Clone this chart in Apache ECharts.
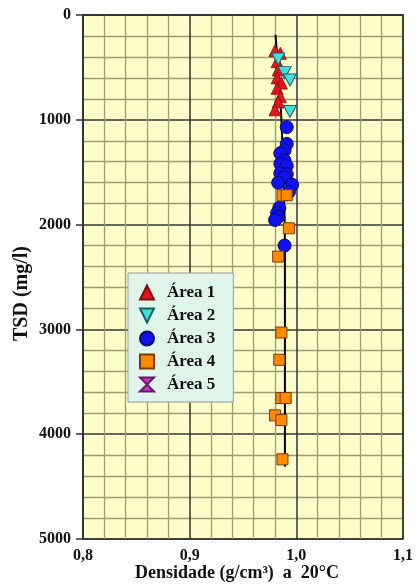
<!DOCTYPE html>
<html>
<head>
<meta charset="utf-8">
<script src="https://cdn.jsdelivr.net/npm/echarts@6/dist/echarts.min.js"></script>
<style>
html,body{margin:0;padding:0;background:#fff;}
#chart{width:419px;height:586px;}
</style>
</head>
<body>
<div id="chart"></div>
<script>
// Density (g/cm3) , TSD (mg/l)
const area1 = [[0.980,340],[0.985,365],[0.982,445],[0.983,525],[0.982,600],[0.986,650],[0.982,700],[0.985,780],[0.983,830],[0.980,905]];
const area2 = [[0.983,420],[0.989,550],[0.994,620],[0.994,920]];
const area3 = [[0.991,1070],[0.991,1230],[0.989,1290],[0.985,1320],[0.989,1390],[0.985,1420],[0.991,1440],[0.985,1510],[0.991,1520],[0.989,1550],[0.983,1600],[0.996,1620],[0.993,1690],[0.984,1840],[0.982,1890],[0.983,1925],[0.980,1955],[0.989,2200]];
const area4 = [[0.987,1720],[0.991,1720],[0.993,2035],[0.983,2305],[0.986,3030],[0.984,3290],[0.986,3655],[0.990,3655],[0.980,3820],[0.986,3865],[0.987,4240]];
const area5 = [];
const fitLine = [[0.9805,190],[0.9835,600],[0.986,1000],[0.988,1600],[0.9893,2200],[0.9893,3200],[0.9893,4310]];
const seriesNames = ['Área 1','Área 2','Área 3','Área 4','Área 5'];
const xTicks = ['0,8','0,9','1,0','1,1'];
const yTicks = ['0','1000','2000','3000','4000','5000'];
const xTitle = 'Densidade (g/cm³)  a  20°C';
const yTitle = 'TSD (mg/l)';

const FONT = '"Liberation Serif","Times New Roman",serif';
const downTri = 'path://M0,0 L10,0 L5,10 Z';
const hourglass = 'path://M0,0 L10,0 L0,10 L10,10 Z';

const chart = echarts.init(document.getElementById('chart'), null, {renderer:'canvas'});
chart.setOption({
  animation:false,
  backgroundColor:'#ffffff',
  grid:{left:83,right:16,top:15,bottom:47,containLabel:false,outerBoundsMode:'none',show:true,backgroundColor:'#fffdc9',borderColor:'#333',borderWidth:1.5},
  graphic:[
    {type:'text',left:12,top:246,rotation:Math.PI/2,
     style:{text:yTitle,fontFamily:FONT,fontWeight:'bold',fontSize:20,fill:'#111'}},
    {type:'text',x:237,y:573,
     style:{text:xTitle,fontFamily:FONT,fontWeight:'bold',fontSize:18,fill:'#111',align:'center',verticalAlign:'middle'}}
  ],
  xAxis:{
    type:'value',min:0.8,max:1.1,interval:0.1,
    axisLine:{show:true,lineStyle:{color:'#333',width:1.5}},
    axisTick:{show:false},
    axisLabel:{margin:9,fontFamily:FONT,fontWeight:'bold',fontSize:16,color:'#111',
      formatter:function(v){const i=Math.round((v-0.8)/0.1);return xTicks[i]!==undefined?xTicks[i]:'';}},
    splitLine:{show:true,lineStyle:{color:'#333',width:1.5}},
    minorTick:{show:false,splitNumber:5},
    minorSplitLine:{show:true,lineStyle:{color:'#9c9c70',width:1.3}}
  },
  yAxis:{
    type:'value',min:0,max:5000,interval:1000,inverse:true,
    axisLine:{show:true,lineStyle:{color:'#333',width:1.5}},
    axisTick:{show:true,length:7,lineStyle:{color:'#333',width:1.5}},
    axisLabel:{margin:12,fontFamily:FONT,fontWeight:'bold',fontSize:16,color:'#111',
      formatter:function(v){const i=Math.round(v/1000);return yTicks[i]!==undefined?yTicks[i]:'';}},
    splitLine:{show:true,lineStyle:{color:'#333',width:1.5}},
    minorTick:{show:false,splitNumber:5},
    minorSplitLine:{show:true,lineStyle:{color:'#9c9c70',width:1.3}}
  },
  legend:{
    data:seriesNames,orient:'vertical',left:128,top:273,
    backgroundColor:'#dff5ea',borderColor:'#999',borderWidth:1,
    padding:[11,18,9,11],itemWidth:14,itemHeight:14,itemGap:6,
    textStyle:{fontFamily:FONT,fontWeight:'bold',fontSize:17,color:'#111',padding:[0,0,0,8],lineHeight:16}
  },
  series:[
    {name:'fit',type:'line',data:fitLine,smooth:true,symbol:'none',lineStyle:{color:'#000',width:2},z:1,silent:true},
    {name:'Área 1',type:'scatter',data:area1,symbol:'triangle',symbolSize:12,itemStyle:{color:'#e8121a',borderColor:'#7a1010',borderWidth:0.8,opacity:1},z:3},
    {name:'Área 2',type:'scatter',data:area2,symbol:downTri,symbolSize:[13,12],itemStyle:{color:'#3ee0e0',borderColor:'#1a6060',borderWidth:1,opacity:1},z:4},
    {name:'Área 3',type:'scatter',data:area3,symbol:'circle',symbolSize:13,itemStyle:{color:'#1010f0',borderColor:'#0a0a70',borderWidth:1,opacity:1},z:3},
    {name:'Área 4',type:'scatter',data:area4,symbol:'rect',symbolSize:11,itemStyle:{color:'#ff8a00',borderColor:'#7a3a00',borderWidth:1,opacity:1},z:3},
    {name:'Área 5',type:'scatter',data:area5,symbol:hourglass,symbolSize:12,itemStyle:{color:'#cc33cc',borderColor:'#661a66',borderWidth:1,opacity:1},z:3}
  ]
});
</script>
</body>
</html>
